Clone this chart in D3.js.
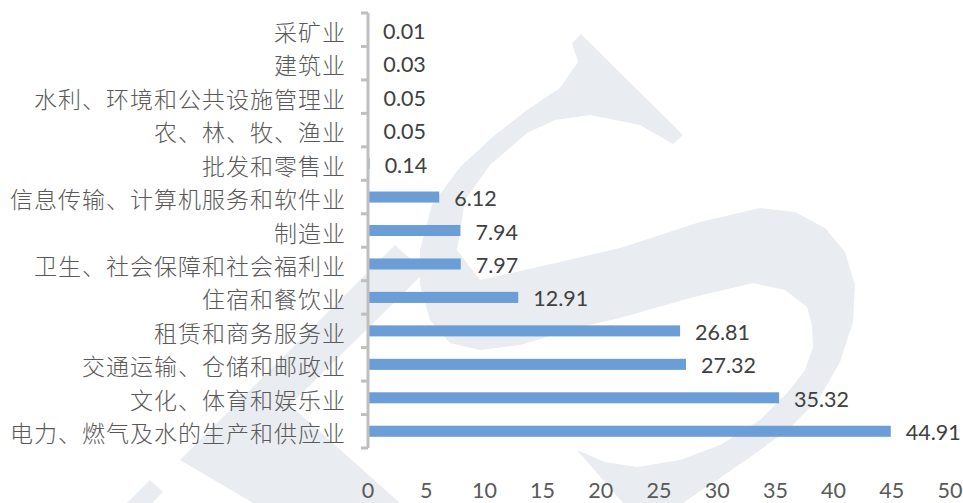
<!DOCTYPE html>
<html>
<head>
<meta charset="utf-8">
<title>行业分布</title>
<script src="https://cdn.jsdelivr.net/npm/d3@7"></script>
<style>
  body { margin: 0; background: #ffffff; }
  .cat { font-family: "Noto Sans CJK SC", sans-serif; font-weight: 300; letter-spacing: 1px; }
  .num { font-family: "Lato", "Open Sans", sans-serif; }
</style>
</head>
<body>
<div class="chart"></div>
<script>
// data, top to bottom as drawn
var categories = ['采矿业', '建筑业', '水利、环境和公共设施管理业', '农、林、牧、渔业', '批发和零售业',
    '信息传输、计算机服务和软件业', '制造业', '卫生、社会保障和社会福利业', '住宿和餐饮业',
    '租赁和商务服务业', '交通运输、仓储和邮政业', '文化、体育和娱乐业', '电力、燃气及水的生产和供应业'];
var values = [0.01, 0.03, 0.05, 0.05, 0.14, 6.12, 7.94, 7.97, 12.91, 26.81, 27.32, 35.32, 44.91];
var xTicks = [0, 5, 10, 15, 20, 25, 30, 35, 40, 45, 50];

var width = 963, height = 503;
var axis_x = 368;

var svg = d3.select('.chart')
    .append('svg')
    .attr('width', width)
    .attr('height', height);

// faint logo watermark behind the chart
var wm = svg.append('g').attr('fill', '#e9ecf1');
var line = d3.line();
wm.append('path').attr('d', line([
    [581, 34], [683, 135], [673, 144], [640, 125], [590, 115], [555, 120], [527, 133], [490, 165],
    [465, 200], [457, 250], [480, 280], [560, 262], [620, 248], [700, 222], [760, 208], [795, 212],
    [825, 228], [845, 252], [855, 285], [853, 322], [840, 362], [820, 397], [790, 428], [753, 455],
    [720, 478], [687, 500], [660, 520], [623, 503], [577, 450], [605, 462], [637, 467], [680, 460],
    [720, 445], [760, 420], [787, 393], [805, 370], [813, 347], [812, 325], [807, 307], [785, 290],
    [753, 283], [690, 298], [620, 318], [580, 327], [520, 345], [480, 350], [450, 343], [430, 320],
    [420, 285], [420, 250], [432, 205], [460, 167], [495, 135], [527, 110], [560, 88], [578, 62],
    [572, 43]
]) + 'Z');
wm.append('path').attr('d', line([
    [180, 460], [395, 245], [425, 272], [290, 405], [400, 503], [253, 503]
]) + 'Z');
wm.append('path').attr('d', line([
    [127, 503], [150, 480], [163, 492], [152, 503]
]) + 'Z');

var x = d3.scaleLinear()
    .domain([0, 50])
    .range([axis_x, 950]);

var y = d3.scaleBand()
    .domain(categories)
    .range([13, 448])
    .paddingInner(0.67)
    .paddingOuter(0.335);

// bars
svg.append('g')
    .selectAll('rect')
    .data(values)
    .enter()
    .append('rect')
    .attr('x', x(0))
    .attr('y', function(d, i) { return y(categories[i]); })
    .attr('width', function(d) { return x(d) - x(0); })
    .attr('height', y.bandwidth())
    .attr('fill', '#6b9dd6');

// value labels
svg.append('g')
    .selectAll('text')
    .data(values)
    .enter()
    .append('text')
    .attr('class', 'num')
    .attr('x', function(d) { return x(d) + 15; })
    .attr('y', function(d, i) { return y(categories[i]) + y.bandwidth() / 2 + 9; })
    .attr('font-size', 21.5)
    .attr('fill', '#404040')
    .text(function(d) { return d.toFixed(2); });

// vertical category axis with ticks at band edges
var step = y.step();
var edges = d3.range(categories.length + 1).map(function(i) { return 13 + i * step; });

svg.append('line')
    .attr('x1', axis_x).attr('x2', axis_x)
    .attr('y1', 13).attr('y2', 448)
    .attr('stroke', '#bfbfbf')
    .attr('stroke-width', 3);

svg.append('g')
    .selectAll('line')
    .data(edges)
    .enter()
    .append('line')
    .attr('x1', axis_x - 7).attr('x2', axis_x)
    .attr('y1', function(d) { return d; })
    .attr('y2', function(d) { return d; })
    .attr('stroke', '#bfbfbf')
    .attr('stroke-width', 3);

// category labels
svg.append('g')
    .selectAll('text')
    .data(categories)
    .enter()
    .append('text')
    .attr('class', 'cat')
    .attr('x', 346)
    .attr('y', function(d) { return y(d) + y.bandwidth() / 2 + 1; })
    .attr('text-anchor', 'end')
    .attr('dominant-baseline', 'central')
    .attr('font-size', 23)
    .attr('fill', '#595959')
    .text(function(d) { return d; });

// x tick labels (no axis line)
svg.append('g')
    .selectAll('text')
    .data(xTicks)
    .enter()
    .append('text')
    .attr('class', 'num')
    .attr('x', function(d) { return x(d); })
    .attr('y', 498)
    .attr('text-anchor', 'middle')
    .attr('font-size', 21.5)
    .attr('fill', '#595959')
    .text(function(d) { return d; });
</script>
</body>
</html>
